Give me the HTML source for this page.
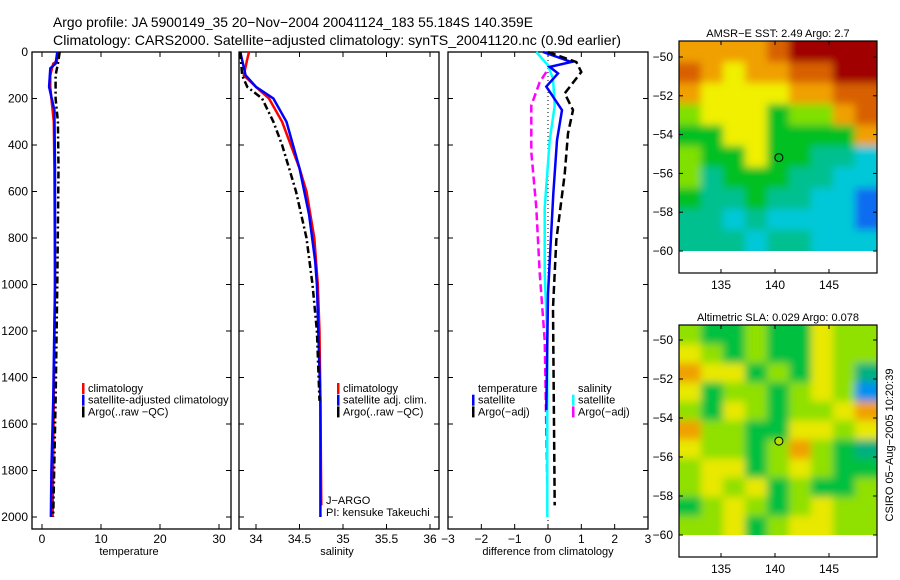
<!DOCTYPE html>
<html><head><meta charset="utf-8"><style>
body{margin:0;background:#fff}
svg{font-family:"Liberation Sans",sans-serif;display:block}
text{fill:#000}
</style></head><body>
<svg id="c" width="900" height="580" viewBox="0 0 900 580">
<defs>
<filter id="bl" x="-5%" y="-5%" width="110%" height="110%"><feGaussianBlur stdDeviation="4"/></filter>
<clipPath id="cp1"><rect x="679" y="41" width="198" height="210"/></clipPath>
<clipPath id="cp2"><rect x="679" y="325" width="198" height="210"/></clipPath>
</defs>
<rect width="900" height="580" fill="#fff"/>
<text x="53" y="27" font-size="14" textLength="480" lengthAdjust="spacingAndGlyphs">Argo profile: JA 5900149_35 20−Nov−2004 20041124_183 55.184S 140.359E</text>
<text x="53" y="45" font-size="14" textLength="568" lengthAdjust="spacingAndGlyphs">Climatology: CARS2000. Satellite−adjusted climatology: synTS_20041120.nc (0.9d earlier)</text>
<g id="g"></g>
</svg>
<script>
// ---- data ----
const depthTicks=[0,200,400,600,800,1000,1200,1400,1600,1800,2000];
const tempTicks=[0,10,20,30];
const salTicks=[34,34.5,35,35.5,36];
const diffTicks=[-3,-2,-1,0,1,2,3];
const tClimD=[0,40,50,100,150,200,300,500,1000,1500,2000];
const tClimV=[2.8,2.5,1.9,1.4,1.4,1.6,2.0,2.1,2.2,2.0,1.8];
const tSatD=[0,50,70,150,250,500,1000,1500,1800,2000];
const tSatV=[2.6,2.3,1.4,1.2,2.1,2.2,2.2,1.9,1.6,1.5];
const tArgoD=[0,50,100,200,300,500,1000,1500,2000];
const tArgoV=[3.0,2.7,2.3,2.3,2.7,2.8,2.6,2.3,1.9];
const sClimD=[0,30,100,150,200,300,400,500,600,800,1000,1200,1500,1950];
const sClimV=[33.92,33.9,33.86,34.0,34.15,34.3,34.4,34.5,34.58,34.67,34.71,34.73,34.74,34.75];
const sSatD=[0,100,150,200,300,500,700,900,1000,1500,2000];
const sSatV=[33.82,33.88,34.0,34.2,34.35,34.5,34.61,34.68,34.7,34.74,34.74];
const sArgoD=[0,100,150,200,300,400,500,600,800,1000,1200,1500];
const sArgoV=[33.82,33.84,33.9,34.07,34.2,34.3,34.38,34.46,34.58,34.65,34.7,34.73];
const dTSatD=[0,43,64,92,149,250,380,610,1040,1540];
const dTSatV=[-0.15,0.7,0.05,0.3,-0.05,0.42,0.27,0.16,0,-0.05];
const dTArgoD=[0,43,86,178,250,350,525,810,1100,1950];
const dTArgoV=[0,0.85,1.0,0.5,0.75,0.6,0.5,0.25,0.15,0.2];
const dSSatD=[0,57,115,230,380,670,950,1240,2000];
const dSSatV=[-0.35,0,0.15,0.2,0.05,-0.1,-0.1,-0.02,-0.02];
const dSArgoD=[86,130,230,430,670,950,1240,1860];
const dSArgoV=[-0.05,-0.25,-0.5,-0.5,-0.35,-0.25,-0.1,-0.02];
const latTicks=[-50,-52,-54,-56,-58,-60];
const lonTicks=[135,140,145];
const sstGrid=[
[6,6,6,6,7,8,8,8,8],[7,6,5,6,6,7,7,8,8],[6,5,5,5,5,6,6,7,7],[4,5,5,5,3,4,4,6,7],
[3,3,5,5,3,3,3,3,6],[4,3,3,5,3,3,2,2,1],[4,2,3,3,3,2,2,1,1],[3,2,2,3,2,2,1,1,0],
[2,2,1,2,1,1,1,1,0],[2,2,2,1,2,2,1,1,1]];
const slaGrid=[
[3,2,2,3,2,2,4,3,3],[4,3,2,3,2,2,4,3,3],[5,4,4,2,3,2,4,3,1],[4,2,3,3,2,3,4,3,0],
[3,2,4,3,2,3,3,4,5],[5,3,3,2,2,4,4,3,4],[4,3,3,2,3,5,3,2,1],[3,4,4,2,3,4,3,2,2],
[3,4,3,4,2,3,2,2,3],[2,3,4,3,2,3,4,3,3],[3,3,4,2,3,4,4,3,3]];
// ---- drawing ----
const NS='http://www.w3.org/2000/svg',G=document.getElementById('g');
function mk(t,a,p){const e=document.createElementNS(NS,t);for(const k in a)e.setAttribute(k,a[k]);(p||G).appendChild(e);return e;}
function txt(x,y,s,sz,anc,name){const e=mk('text',{x:x,y:y,'font-size':sz,'text-anchor':anc||'start'});e.textContent=s;


return e;}
const Y0=52,Y1=517,yD=d=>Y0+d*(Y1-Y0)/2000;
function frame(L,R,name){const r=mk('rect',{x:L,y:52,width:R-L,height:477,fill:'none',stroke:'#000','stroke-width':1.3});

}
function line(xs,D,V,col,dash,w,name){let p='';D.forEach((d,i)=>{p+=(i?'L':'M')+xs(V[i]).toFixed(1)+','+yD(d).toFixed(1);});
const e=mk('path',{d:p,fill:'none',stroke:col,'stroke-width':w||2.5});if(dash)e.setAttribute('stroke-dasharray',dash);

}
function xt(xs,ticks,fmt,nm){ticks.forEach(t=>{const x=xs(t);mk('line',{x1:x,x2:x,y1:529,y2:524,stroke:'#000'});mk('line',{x1:x,x2:x,y1:52,y2:57,stroke:'#000'});txt(x,543,fmt(t),12,'middle',nm+'-tick-label');});}
function yt(L,R,labels){depthTicks.forEach(d=>{const y=yD(d);mk('line',{x1:L,x2:L+5,y1:y,y2:y,stroke:'#000'});mk('line',{x1:R,x2:R-5,y1:y,y2:y,stroke:'#000'});if(labels)txt(L-4,y+4,String(d),12,'end','depth-tick-label');});}
// Panel 1 temperature
const L1=32,R1=231,xT=v=>42+v*(219-42)/30;
frame(L1,R1,'temperature-panel');yt(L1,R1,true);xt(xT,tempTicks,String,'temperature');
txt(129,555,'temperature',11,'middle','temperature-axis-title');
line(xT,tClimD,tClimV,'#f00',null,2.5,'temp-climatology-line');
line(xT,tSatD,tSatV,'#00f',null,2.5,'temp-satellite-line');
line(xT,tArgoD,tArgoV,'#000','7,3,2,3',2.5,'temp-argo-line');
// Panel 2 salinity
const L2=239,R2=439,xS=v=>256+(v-34)*(430-256)/2;
frame(L2,R2,'salinity-panel');yt(L2,R2,false);xt(xS,salTicks,String,'salinity');
txt(337,555,'salinity',11,'middle','salinity-axis-title');
line(xS,sClimD,sClimV,'#f00',null,2.5,'sal-climatology-line');
line(xS,sSatD,sSatV,'#00f',null,2.5,'sal-satellite-line');
line(xS,sArgoD,sArgoV,'#000','7,3,2,3',2.5,'sal-argo-line');
// Panel 3 difference
const L3=448,R3=648,xD=v=>548+v*(R3-L3)/6;
frame(L3,R3,'difference-panel');yt(L3,R3,false);xt(xD,diffTicks,v=>v<0?'−'+(-v):String(v),'difference');
txt(548,555,'difference from climatology',11,'middle','difference-axis-title');
mk('line',{x1:548,x2:548,y1:52,y2:529,stroke:'#000','stroke-dasharray':'1,3'});
line(xD,dSArgoD,dSArgoV,'#f0f','8,4',2.5,'dsal-argo-line');
line(xD,dSSatD,dSSatV,'#0ff',null,2.5,'dsal-satellite-line');
line(xD,dTSatD,dTSatV,'#00f',null,2.5,'dtemp-satellite-line');
line(xD,dTArgoD,dTArgoV,'#000','8,4',2.5,'dtemp-argo-line');
// legends
function leg(x,y,items,name){items.forEach((it,i)=>{const yy=y+i*11.7;if(it[0])mk('rect',{x:x,y:yy-9,width:2.5,height:11,fill:it[0]});txt(x+6,yy,it[1],11,'start',name+'-entry');});}
leg(82,392,[['#f00','climatology'],['#00f','satellite-adjusted climatology'],['#000','Argo(..raw −QC)']],'temp-legend');
leg(337,392,[['#f00','climatology'],['#00f','satellite adj. clim.'],['#000','Argo(..raw −QC)']],'sal-legend');
leg(472,392,[[null,'temperature'],['#00f','satellite'],['#000','Argo(−adj)']],'dtemp-legend');
leg(572,392,[[null,'salinity'],['#0ff','satellite'],['#f0f','Argo(−adj)']],'dsal-legend');
txt(326,504,'J−ARGO',11,'start','float-owner-label');
txt(326,516,'PI: kensuke Takeuchi',11,'start','pi-label');
// maps
const sstCols=['#0a6cf0','#00c8d8','#00c090','#00c020','#80e000','#f0f000','#f0a000','#d86000','#a00000'];
const slaCols=['#0090f0','#00b080','#00c040','#90e000','#e8e800','#f0a000'];
function map(top,bot,B,latTop,grid,cols,title,name,dotCol,clip){
 const L=679,R=877;
 const lx=lon=>721+(lon-135)*(829-721)/10;
 const ly=lat=>latTop+(-50-lat)*(bot-latTop)/10;
 const lonMin=(L-721)/10.8+135,lonMax=(R-721)/10.8+135;
 const rows=grid.length,nc=grid[0].length;
 const latHi=-50+(latTop-top)/((bot-latTop)/10);
 const dLat=(latHi+60)/rows,dLon=(lonMax-lonMin)/nc;
 const cg=mk('g',{'clip-path':'url(#'+clip+')'});
 const bg=mk('g',{filter:'url(#bl)'},cg);
 grid.forEach((row,i)=>row.forEach((v,j)=>{
  const xA=lx(lonMin+j*dLon),yA=ly(latHi-i*dLat);
  const ex0=j===0?-12:0,ex1=j===nc-1?12:0,ey0=i===0?-12:0,ey1=i===rows-1?12:0;
  mk('rect',{x:xA+ex0,y:yA+ey0,width:lx(lonMin+(j+1)*dLon)-xA+0.5-ex0+ex1,height:ly(latHi-(i+1)*dLat)-yA+0.5-ey0+ey1,fill:cols[v]},bg);
 }));
 const b=mk('rect',{x:L,y:top,width:R-L,height:B-top,fill:'none',stroke:'#000','stroke-width':1.2});
 
 
 latTicks.forEach(l=>{const y=ly(l);mk('line',{x1:L,x2:L+4,y1:y,y2:y,stroke:'#000'});mk('line',{x1:R,x2:R-4,y1:y,y2:y,stroke:'#000'});txt(L-6,y+4,'−'+(-l),12,'end','latitude-tick-label');});
 lonTicks.forEach(l=>{const x=lx(l);mk('line',{x1:x,x2:x,y1:B,y2:B-4,stroke:'#000'});mk('line',{x1:x,x2:x,y1:top,y2:top+4,stroke:'#000'});txt(x,B+16,String(l),12,'middle','longitude-tick-label');});
 const c=mk('circle',{cx:lx(140.359),cy:ly(-55.184),r:4,fill:dotCol,stroke:'#000','stroke-width':1});
 
 
 txt(778,top-4,title,11,'middle',name+'-title');
}
map(41,251,273,57,sstGrid,sstCols,'AMSR−E SST: 2.49 Argo: 2.7','sst-map','none','cp1');
map(325,535,557,340,slaGrid,slaCols,'Altimetric SLA: 0.029 Argo: 0.078','sla-map','#b0e000','cp2');
const st=txt(0,0,'CSIRO 05−Aug−2005 10:20:39',11,'middle','timestamp-label');
st.setAttribute('transform','translate(893,445) rotate(-90)');
</script>
</body></html>
